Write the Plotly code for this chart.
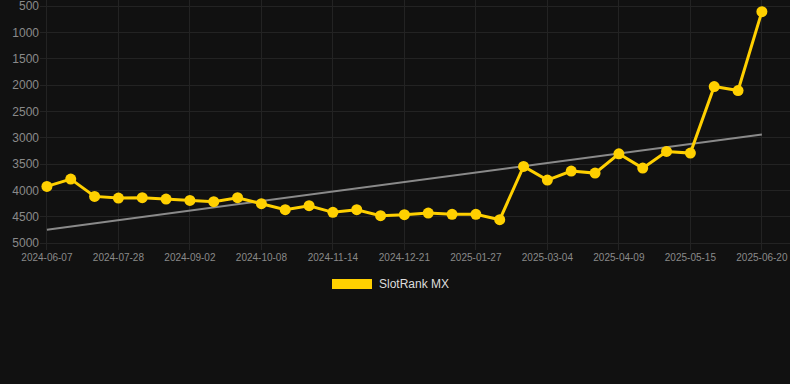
import plotly.graph_objects as go

dates = ["2024-06-07", "2024-06-24", "2024-07-11", "2024-07-28", "2024-08-09", "2024-08-21",
         "2024-09-02", "2024-09-14", "2024-09-26", "2024-10-08", "2024-10-20", "2024-11-01",
         "2024-11-14", "2024-11-26", "2024-12-08", "2024-12-21", "2025-01-02", "2025-01-14",
         "2025-01-27", "2025-02-08", "2025-02-20", "2025-03-04", "2025-03-16", "2025-03-28",
         "2025-04-09", "2025-04-21", "2025-05-03", "2025-05-15", "2025-05-27", "2025-06-08",
         "2025-06-20"]
rank = [3925, 3786, 4115, 4147, 4140, 4166, 4191, 4216, 4140, 4254, 4368, 4292, 4418, 4368,
        4482, 4463, 4431, 4456, 4456, 4557, 3546, 3805, 3635, 3673, 3306, 3578, 3262, 3293,
        2029, 2105, 607]
trend_dates = ["2024-06-07", "2025-06-20"]
trend_values = [4747, 2940]
tick_labels = dates[::3]
y_ticks = [500, 1000, 1500, 2000, 2500, 3000, 3500, 4000, 4500, 5000]
series_name = "SlotRank MX"

fig = go.Figure()
fig.add_trace(go.Scatter(x=trend_dates, y=trend_values, mode="lines",
                         line=dict(color="#8a8a8a", width=2), hoverinfo="skip", showlegend=False))
fig.add_trace(go.Scatter(x=dates, y=rank, mode="lines+markers", name=series_name,
                         line=dict(color="#FFD000", width=3),
                         marker=dict(color="#FFD000", size=11), showlegend=False))

fig.update_layout(
    width=790, height=384,
    paper_bgcolor="#111111", plot_bgcolor="#111111",
    margin=dict(l=40, r=0, t=0, b=134),
    font=dict(family="Liberation Sans, Arial, sans-serif", color="#888888"),
    xaxis=dict(type="category", categoryorder="array", categoryarray=dates,
               range=[-0.29, 31.18], tickmode="array",
               tickvals=tick_labels, ticktext=tick_labels, ticklabeloverflow="allow",
               showgrid=True, gridcolor="#232323", gridwidth=1, zeroline=False,
               showline=False, ticks="", tickfont=dict(size=10, color="#8a8a8a")),
    yaxis=dict(range=[5133, 386], tickmode="array", tickvals=y_ticks, ticklabeloverflow="allow",
               showgrid=True, gridcolor="#232323", gridwidth=1, zeroline=False,
               showline=False, ticks="", tickfont=dict(size=12, color="#8a8a8a")),
    shapes=[dict(type="rect", xref="paper", yref="paper",
                 x0=(332 - 40) / 750, x1=(372 - 40) / 750,
                 y0=(250 - 289) / 250, y1=(250 - 279) / 250,
                 fillcolor="#FFD000", line=dict(width=0))],
    annotations=[dict(text=series_name, xref="paper", yref="paper",
                      x=(377 - 40) / 750, y=(250 - 284) / 250, xanchor="left", yanchor="middle",
                      showarrow=False, font=dict(size=12, color="#dddddd"))],
)

fig.write_html("out.html", config={"displayModeBar": False},
               post_script="document.body.style.margin='0';document.body.style.background='#111111';")
